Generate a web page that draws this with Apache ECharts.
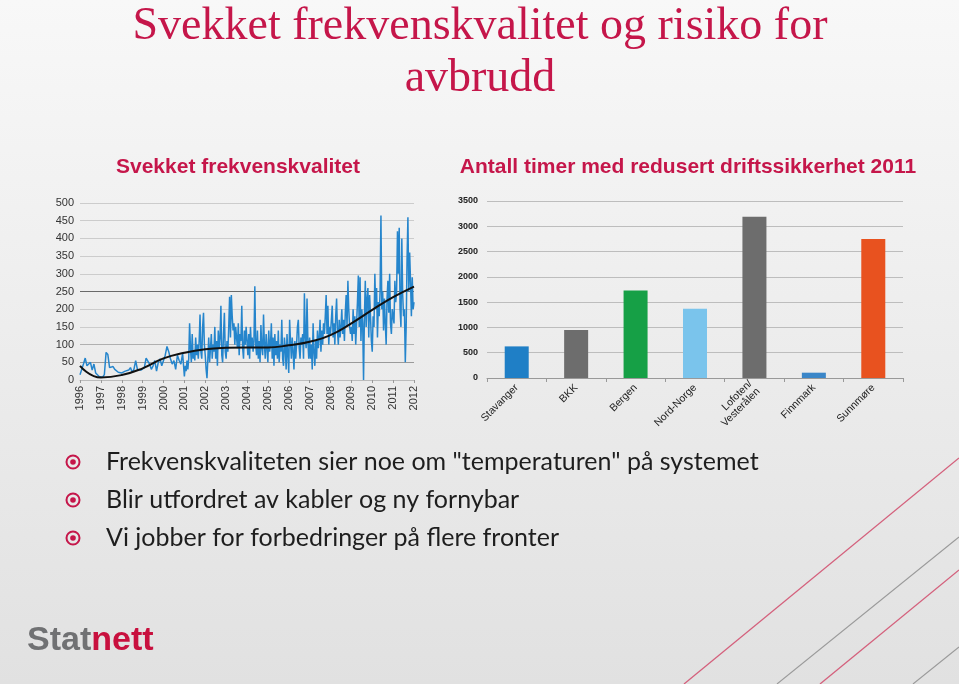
<!DOCTYPE html>
<html>
<head>
<meta charset="utf-8">
<script src="https://cdn.jsdelivr.net/npm/echarts@6/dist/echarts.min.js"></script>
<style>
html,body{margin:0;padding:0;}
#c{width:959px;height:684px;}
</style>
</head>
<body>
<div id="c"></div>
<script>
// ---- Left chart: frequency quality (values per year, evenly spaced inside each year) ----
const f1996 = [15, 30, 45, 62, 40, 35, 50, 28, 45, 20, 15, 10];
const f1997 = [12, 8, 15, 78, 72, 35, 30, 38, 30, 28, 22, 18];
const f1998 = [20, 15, 25, 30, 28, 35, 22, 30, 55, 30, 25, 28];
const f1999 = [30, 35, 62, 65, 45, 30, 40, 55, 25, 50, 60, 40];
const f2000 = [55, 70, 95, 80, 60, 45, 55, 30, 70, 55, 45, 75];
const f2001 = [10, 40, 25, 55, 30, 60, 160, 90, 50, 130, 60, 80, 55, 120, 70, 100, 60, 110, 185, 80, 60, 150, 190, 100];
const f2002 = [70, 30, 5, 60, 120, 50, 90, 130, 60, 100, 80, 150, 60, 110, 40, 140, 90, 120, 210, 70, 50, 130, 190, 80];
const f2003 = [60, 110, 80, 150, 235, 120, 240, 180, 140, 160, 100, 150, 120, 90, 160, 70, 130, 110, 210, 90, 60, 140, 100, 150];
const f2004 = [110, 70, 130, 60, 150, 90, 120, 80, 110, 265, 100, 70, 140, 60, 110, 50, 155, 90, 70, 185, 100, 60, 130, 90];
const f2005 = [50, 140, 80, 100, 160, 60, 120, 40, 130, 70, 110, 60, 140, 50, 100, 80, 170, 60, 40, 120, 90, 30, 130, 70];
const f2006 = [20, 170, 110, 60, 120, 80, 30, 110, 60, 100, 150, 170, 90, 60, 120, 100, 130, 60, 245, 120, 90, 230, 110, 60];
const f2007 = [120, 60, 100, 30, 160, 80, 40, 110, 60, 140, 90, 120, 170, 80, 140, 100, 160, 130, 180, 240, 130, 210, 100, 150];
const f2008 = [130, 170, 210, 120, 160, 100, 180, 230, 140, 100, 170, 120, 150, 200, 130, 170, 110, 190, 240, 150, 280, 200, 150, 130];
const f2009 = [150, 110, 200, 130, 180, 100, 160, 220, 295, 150, 290, 110, 200, 160, 0, 180, 280, 150, 230, 260, 120, 240, 180, 110];
const f2010 = [80, 180, 150, 300, 200, 260, 120, 220, 180, 250, 465, 200, 250, 140, 230, 160, 100, 230, 280, 190, 300, 160, 130, 200];
const f2011 = [200, 160, 280, 220, 250, 420, 300, 430, 200, 150, 400, 240, 180, 200, 50, 150, 340, 460, 250, 360, 280, 180, 290, 200];
const f2012 = [220];
const trendYears = [1996, 1997, 1998, 1999, 2000, 2001, 2002, 2003, 2004, 2005, 2006, 2007, 2008, 2009, 2010, 2011, 2012];
const trendValues = [40, 7, 14, 33, 61, 77, 87, 91, 92, 92, 98, 108, 127, 160, 198, 234, 264];

// ---- Right chart: hours with reduced operational security 2011 ----
const regions = ['Stavanger', 'BKK', 'Bergen', 'Nord-Norge', 'Lofoten/\nVesterålen', 'Finnmark', 'Sunnmøre'];
const hours = [625, 947, 1730, 1368, 3191, 105, 2750];
const barColors = ['#1f7fc6', '#6d6d6d', '#16a046', '#7ac4ec', '#6d6d6d', '#3a86c8', '#e8521f'];

// ---- Texts ----
const titleLines = ['Svekket frekvenskvalitet og risiko for', 'avbrudd'];
const leftTitle = 'Svekket frekvenskvalitet';
const rightTitle = 'Antall timer med redusert driftssikkerhet 2011';
const bullets = ['Frekvenskvaliteten sier noe om "temperaturen" på systemet', 'Blir utfordret av kabler og ny fornybar', 'Vi jobber for forbedringer på flere fronter'];

const CRIMSON = '#c5164a';

const yearSegs = [[1996, f1996], [1997, f1997], [1998, f1998], [1999, f1999], [2000, f2000], [2001, f2001], [2002, f2002], [2003, f2003], [2004, f2004], [2005, f2005], [2006, f2006], [2007, f2007], [2008, f2008], [2009, f2009], [2010, f2010], [2011, f2011], [2012, f2012]];
const freqData = [];
yearSegs.forEach(([y, arr]) => arr.forEach((v, i) => freqData.push([y + i / arr.length, v])));
const trendData = trendYears.map((y, i) => [y, trendValues[i]]);

const chart = echarts.init(document.getElementById('c'));

const graphics = [
  { type: 'rect', z: -10, shape: { x: 0, y: 0, width: 959, height: 684 },
    style: { fill: new echarts.graphic.LinearGradient(0, 0, 0, 1, [{ offset: 0, color: '#f8f8f8' }, { offset: 1, color: '#e1e1e1' }]) } },
  { type: 'text', x: 480, y: 27, style: { text: titleLines[0], font: '46px "Liberation Serif", serif', fill: CRIMSON, align: 'center', verticalAlign: 'middle' } },
  { type: 'text', x: 480, y: 79, style: { text: titleLines[1], font: '46px "Liberation Serif", serif', fill: CRIMSON, align: 'center', verticalAlign: 'middle' } },
  { type: 'text', x: 238, y: 167, style: { text: leftTitle, font: 'bold 21px "Liberation Sans", sans-serif', fill: CRIMSON, align: 'center', verticalAlign: 'middle' } },
  { type: 'text', x: 688, y: 167, style: { text: rightTitle, font: 'bold 21px "Liberation Sans", sans-serif', fill: CRIMSON, align: 'center', verticalAlign: 'middle' } },
  { type: 'text', x: 27, y: 641, style: { text: '{a|Stat}{b|nett}', verticalAlign: 'middle',
      rich: { a: { font: 'bold 34px "Liberation Sans", sans-serif', fill: '#707173' },
              b: { font: 'bold 34px "Liberation Sans", sans-serif', fill: '#c8103e' } } } },
  { type: 'line', shape: { x1: 684, y1: 684, x2: 959, y2: 458 }, style: { stroke: '#d4607c', lineWidth: 1.3 } },
  { type: 'line', shape: { x1: 777, y1: 684, x2: 959, y2: 537 }, style: { stroke: '#9a9a9a', lineWidth: 1.1 } },
  { type: 'line', shape: { x1: 820, y1: 684, x2: 959, y2: 570 }, style: { stroke: '#d4607c', lineWidth: 1.3 } },
  { type: 'line', shape: { x1: 913, y1: 684, x2: 959, y2: 647 }, style: { stroke: '#9a9a9a', lineWidth: 1.1 } }
];
bullets.forEach((t, i) => {
  const y = 462 + i * 38;
  graphics.push({ type: 'circle', shape: { cx: 73, cy: y, r: 6.5 }, style: { fill: 'none', stroke: CRIMSON, lineWidth: 2 } });
  graphics.push({ type: 'circle', shape: { cx: 73, cy: y, r: 2.8 }, style: { fill: CRIMSON } });
  graphics.push({ type: 'text', x: 106, y: y, style: { text: t, font: '25px Lato, sans-serif', fill: '#1e1e1e', verticalAlign: 'middle' } });
});

chart.setOption({
  animation: false,
  graphic: graphics,
  grid: [
    { left: 80, right: 545, top: 203, bottom: 304 },
    { left: 487, right: 56, top: 201, bottom: 306 }
  ],
  xAxis: [
    { type: 'value', gridIndex: 0, min: 1996, max: 2012, interval: 1,
      axisLine: { show: true, lineStyle: { color: '#bbb' } },
      axisTick: { show: true, length: 3, lineStyle: { color: '#999' } },
      splitLine: { show: false },
      axisLabel: { rotate: 90, fontSize: 11, color: '#333', fontFamily: 'Liberation Sans', margin: 6, formatter: v => String(v) } },
    { type: 'category', gridIndex: 1, data: regions,
      axisLine: { lineStyle: { color: '#999' } },
      axisTick: { show: true, length: 4, lineStyle: { color: '#999' } },
      axisLabel: { rotate: 45, fontSize: 10.5, color: '#222', fontFamily: 'Liberation Sans', margin: 8, lineHeight: 11, interval: 0 } }
  ],
  yAxis: [
    { type: 'value', gridIndex: 0, min: 0, max: 500, interval: 50,
      axisLine: { show: false }, axisTick: { show: false },
      splitLine: { lineStyle: { color: ['#c8c8c8', '#9a9a9a', '#b0b0b0', '#cccccc', '#cccccc', '#6a6a6a', '#cccccc', '#cccccc', '#cccccc', '#cccccc', '#cccccc'], width: 1 } },
      axisLabel: { fontSize: 11, color: '#333', fontFamily: 'Liberation Sans', margin: 6 } },
    { type: 'value', gridIndex: 1, min: 0, max: 3500, interval: 500,
      axisLine: { show: false }, axisTick: { show: false },
      splitLine: { lineStyle: { color: '#bdbdbd', width: 1 } },
      axisLabel: { fontSize: 9, fontWeight: 'bold', color: '#222', fontFamily: 'Liberation Sans', margin: 9, formatter: v => String(v) } }
  ],
  series: [
    { type: 'line', xAxisIndex: 0, yAxisIndex: 0, data: freqData, symbol: 'none',
      lineStyle: { color: '#2585cc', width: 1.5 } },
    { type: 'line', xAxisIndex: 0, yAxisIndex: 0, data: trendData, symbol: 'none', smooth: 0.5,
      lineStyle: { color: '#111', width: 2 } },
    { type: 'bar', xAxisIndex: 1, yAxisIndex: 1, barWidth: 24,
      data: hours.map((v, i) => ({ value: v, itemStyle: { color: barColors[i] } })) }
  ]
});
</script>
</body>
</html>
